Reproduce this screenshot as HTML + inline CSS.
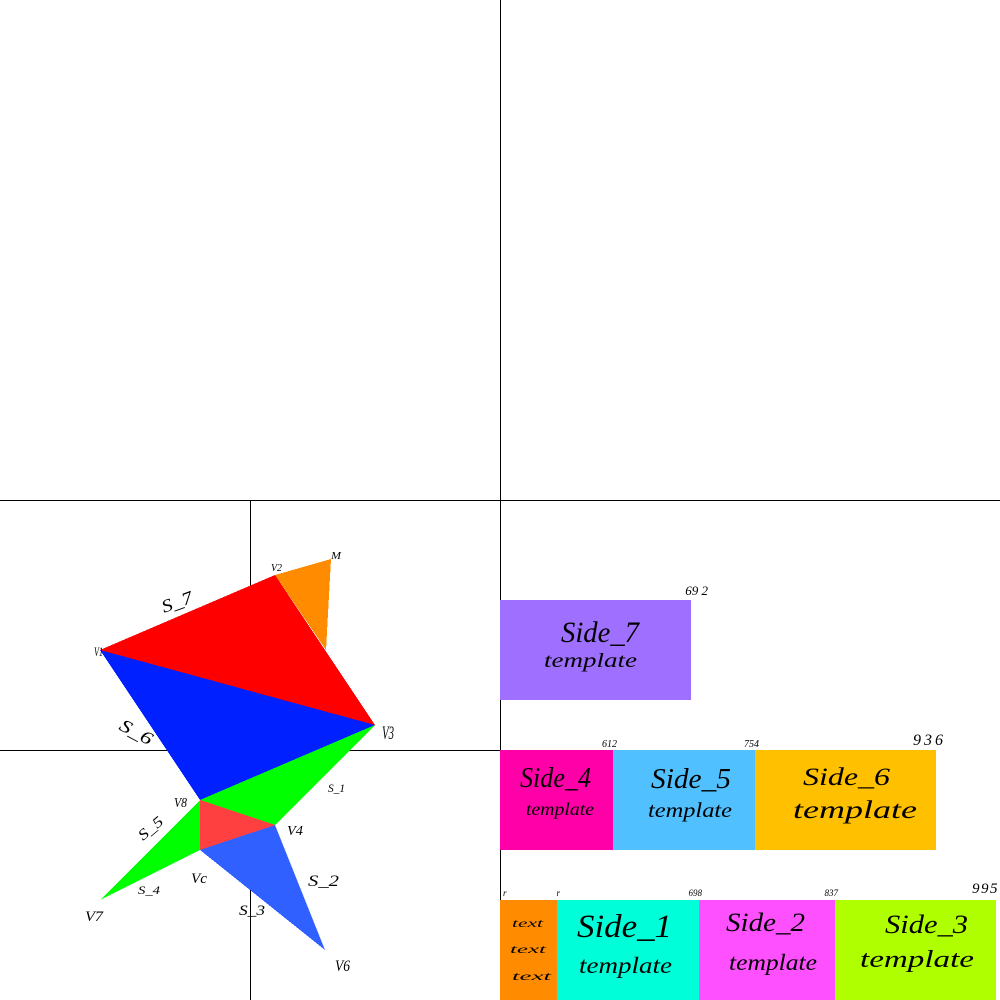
<!DOCTYPE html>
<html lang="en">
<head>
<meta charset="utf-8">
<title>Polygon sides and template bars</title>
<style>
html,body{margin:0;padding:0;background:#fff;width:1000px;height:1000px;overflow:hidden}
svg{display:block}
text{font-family:"Liberation Serif",serif;font-style:italic;fill:#000;stroke:none}
</style>
</head>
<body>
<svg id="chart" xmlns="http://www.w3.org/2000/svg" width="1000" height="1000" viewBox="0 0 1000 1000">
  <rect x="0" y="0" width="1000" height="1000" fill="#ffffff"/>
  <g fill="#000000">
    <rect x="500" y="0" width="1" height="1000"/>
    <rect x="0" y="500" width="1000" height="1"/>
    <rect x="250" y="500" width="1" height="500"/>
    <rect x="0" y="750" width="500" height="1"/>
  </g>
  <g id="triangles" shape-rendering="crispEdges"></g>
  <g id="bars" shape-rendering="crispEdges"></g>
  <g id="valueLabels"></g>

  <g>
    <text x="561" y="642" font-size="30" textLength="78">Side_7</text>
    <text x="544" y="667" font-size="20" textLength="93">template</text>
    <text x="520" y="787" font-size="29" textLength="71">Side_4</text>
    <text x="526" y="815" font-size="18" textLength="68">template</text>
    <text x="651" y="788" font-size="29" textLength="80">Side_5</text>
    <text x="648" y="817" font-size="21" textLength="84">template</text>
    <text x="803" y="785" font-size="25" textLength="87">Side_6</text>
    <text x="793" y="818" font-size="25" textLength="124">template</text>
    <text x="512" y="927" font-size="12" textLength="31">text</text>
    <text x="510" y="953" font-size="12" textLength="36">text</text>
    <text x="512" y="980" font-size="12" textLength="39">text</text>
    <text x="577" y="937" font-size="33" textLength="95">Side_1</text>
    <text x="579" y="973" font-size="23" textLength="93">template</text>
    <text x="726" y="931" font-size="26" textLength="79">Side_2</text>
    <text x="729" y="970" font-size="23" textLength="88">template</text>
    <text x="885" y="933" font-size="26" textLength="83">Side_3</text>
    <text x="860" y="967" font-size="24" textLength="114">template</text>
  </g>

  <g>
    <text x="94" y="656" font-size="13" textLength="9">V1</text>
    <text x="271" y="571" font-size="11" textLength="11">V2</text>
    <text x="331" y="559" font-size="11" textLength="10">M</text>
    <text x="382" y="739" font-size="19" textLength="12">V3</text>
    <text x="287" y="835" font-size="14" textLength="16">V4</text>
    <text x="174" y="807" font-size="14" textLength="13">V8</text>
    <text x="191" y="883" font-size="15" textLength="16">Vc</text>
    <text x="85" y="921" font-size="15" textLength="18">V7</text>
    <text x="335" y="971" font-size="16" textLength="15">V6</text>
  </g>

  <g>
    <text x="164" y="613" font-size="18" textLength="32" transform="rotate(-20 164 613)">S_7</text>
    <text x="118" y="729" font-size="18" textLength="35" transform="rotate(28 118 729)">S_6</text>
    <text x="328" y="792" font-size="12" textLength="17">S_1</text>
    <text x="143" y="841" font-size="15" textLength="28" transform="rotate(-40 143 841)">S_5</text>
    <text x="308" y="886" font-size="16" textLength="31">S_2</text>
    <text x="239" y="915" font-size="15" textLength="26">S_3</text>
    <text x="138" y="894" font-size="12" textLength="22">S_4</text>
  </g>
</svg>
<script>
// Polygon vertices in diagram units (origin at the crossing of the lower-left axes)
const vertexV1 = [-150, 100];
const vertexV2 = [25, 175];
const vertexM = [81, 191];
const vertexQ = [76, 100];
const vertexV3 = [125, 25];
const vertexV4 = [25, -75];
const vertexV8 = [-50, -50];
const vertexVc = [-50, -100];
const vertexV7 = [-150, -150];
const vertexV6 = [75, -200];

const triangleNames = ['orange-triangle', 'side-7-triangle', 'side-6-triangle', 'side-1-triangle', 'side-5-triangle', 'center-triangle', 'side-2-triangle'];
const triangleVertices = [
  [vertexV2, vertexM, vertexQ],
  [vertexV1, vertexV2, vertexV3],
  [vertexV1, vertexV3, vertexV8],
  [vertexV3, vertexV4, vertexV8],
  [vertexV8, vertexVc, vertexV7],
  [vertexV8, vertexV4, vertexVc],
  [vertexVc, vertexV4, vertexV6]
];
const triangleColors = ['#ff8c00', '#ff0000', '#0020ff', '#00ff00', '#00ff00', '#ff4040', '#3060ff'];

// Bar widths per row, stacked left to right
const rowCategories = ['row-top', 'row-middle', 'row-bottom'];
const rowNames = [['side-7'], ['side-4', 'side-5', 'side-6'], ['text', 'side-1', 'side-2', 'side-3']];
const rowValues = [[191], [113, 142, 181], [57, 142, 136, 161]];
const rowColors = [['#9f70ff'], ['#ff00a8', '#50c0ff', '#ffc000'], ['#ff8c00', '#00ffd8', '#ff50ff', '#b0ff00']];
const rowLabels = [['69 2'], ['612', '754', '936'], ['r', 'r', '698', '837', '995']];

const SVG_NS = 'http://www.w3.org/2000/svg';
const polyX = v => 250 + v;
const polyY = v => 750 - v;
const barX = v => 500 + v;
const rowY = i => 600 + i * 150;
const ROW_H = 100;

// Stretch glyphs to the measured label widths so narrow labels do not overlap
document.querySelectorAll('text[textLength]').forEach(t => {
  t.setAttribute('lengthAdjust', 'spacingAndGlyphs');
});

const triGroup = document.getElementById('triangles');
triangleVertices.forEach((tri, i) => {
  const p = document.createElementNS(SVG_NS, 'polygon');
  p.setAttribute('points', tri.map(v => polyX(v[0]) + ',' + polyY(v[1])).join(' '));
  p.setAttribute('fill', triangleColors[i]);
  
  
  triGroup.appendChild(p);
});

const barGroup = document.getElementById('bars');
const labelGroup = document.getElementById('valueLabels');
rowValues.forEach((vals, r) => {
  let sum = 0;
  vals.forEach((w, i) => {
    const rect = document.createElementNS(SVG_NS, 'rect');
    rect.setAttribute('x', barX(sum));
    rect.setAttribute('y', rowY(r));
    rect.setAttribute('width', barX(sum + w) - barX(sum));
    rect.setAttribute('height', ROW_H);
    rect.setAttribute('fill', rowColors[r][i]);
    
    
    barGroup.appendChild(rect);
    sum += w;
  });
});

function addLabel(str, x, y, size, anchor, spacing) {
  const t = document.createElementNS(SVG_NS, 'text');
  t.textContent = str;
  t.setAttribute('x', x);
  t.setAttribute('y', y);
  t.setAttribute('font-size', size);
  t.setAttribute('text-anchor', anchor);
  t.setAttribute('letter-spacing', spacing);
  
  
  labelGroup.appendChild(t);
}

// Labels sit above the right end of each bar
rowLabels.forEach((labels, r) => {
  const vals = rowValues[r];
  if (r === 2) {
    addLabel(labels[0], barX(0) + 3, rowY(r) - 4, 9, 'start', 0);
    let sum = 0;
    vals.forEach((w, i) => {
      sum += w;
      const big = i === vals.length - 1;
      addLabel(labels[i + 1], barX(sum) + (big ? 3 : 3), rowY(r) - (big ? 7 : 4), big ? 15 : 9, 'end', big ? 1.5 : 0);
    });
  } else {
    let sum = 0;
    vals.forEach((w, i) => {
      sum += w;
      const top = r === 0;
      const big = top || (i === vals.length - 1);
      addLabel(labels[i], barX(sum) + (big ? (top ? 17 : 10) : 4), rowY(r) - (big ? 5 : 3), big ? (top ? 13 : 16) : 10, 'end', big && !top ? 3 : 0);
    });
  }
});
</script>
</body>
</html>
